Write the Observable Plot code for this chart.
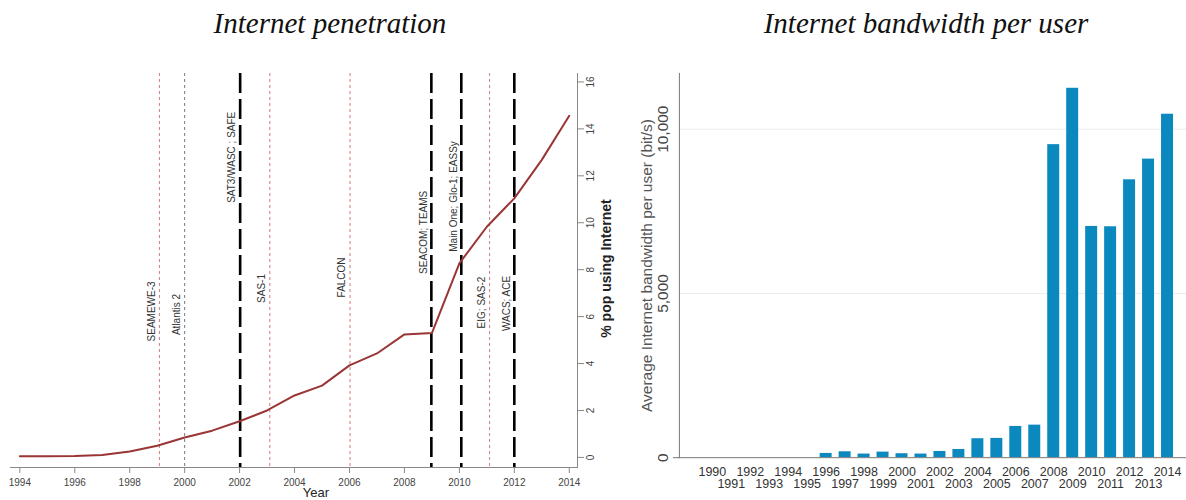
<!DOCTYPE html>
<html><head><meta charset="utf-8">
<script src="https://cdn.jsdelivr.net/npm/d3@7"></script>
<script src="https://cdn.jsdelivr.net/npm/@observablehq/plot@0.6"></script>
<style>
body{margin:0;background:#fff;width:1186px;height:500px;overflow:hidden;position:relative;font-family:"Liberation Sans",Arial,sans-serif}
.title{position:absolute;top:9px;font-family:"Liberation Serif","Times New Roman",serif;font-style:italic;font-size:29px;line-height:29px;white-space:nowrap;transform:translateX(-50%);color:#111}
#left{position:absolute;left:0;top:0}
#right{position:absolute;left:620px;top:0}
</style></head><body>
<div class="title" style="left:330px">Internet penetration</div>
<div class="title" style="left:926px">Internet bandwidth per user</div>
<div id="left"></div><div id="right"></div>
<script>
// ---- Left panel data: Internet penetration (% pop using Internet)
const penYears = [1994,1995,1996,1997,1998,1999,2000,2001,2002,2003,2004,2005,2006,2007,2008,2009,2010,2011,2012,2013,2014];
const penValues = [0.05,0.05,0.06,0.1,0.25,0.5,0.85,1.14,1.54,2.0,2.64,3.06,3.92,4.43,5.24,5.3,8.27,9.83,11.04,12.68,14.56];
const penXTicks = [1994,1996,1998,2000,2002,2004,2006,2008,2010,2012,2014];
const penYTicks = [0,2,4,6,8,10,12,14,16];

// submarine cable arrivals
const cableYears = [1999.08, 2000, 2002.02, 2003.1, 2006.02, 2008.98, 2010.07, 2011.1, 2012];
const cableNames = ["SEAMEWE-3","Atlantis 2","SAT3/WASC ; SAFE","SAS-1","FALCON","SEACOM; TEAMS","Main One; Glo-1; EASSy","EIG; SAS-2","WACS; ACE"];
const cableKinds = ["minor","gray","major","minor","minor","major","major","minor","major"];
const cableLabelY = [6.22, 6.09, 12.79, 7.2, 7.67, 9.59, 11.12, 6.6, 6.56];

// ---- Right panel data: average Internet bandwidth per user (bit/s)
const bwYears = [1990,1991,1992,1993,1994,1995,1996,1997,1998,1999,2000,2001,2002,2003,2004,2005,2006,2007,2008,2009,2010,2011,2012,2013,2014];
const bwValues = [0,0,0,0,0,0,130,180,110,170,120,110,190,250,577,587,951,991,9530,11246,7040,7030,8460,9090,10456];
const bwEvenTicks = [1990,1992,1994,1996,1998,2000,2002,2004,2006,2008,2010,2012,2014];
const bwOddTicks = [1991,1993,1995,1997,1999,2001,2003,2005,2007,2009,2011,2013];
const bwYTicks = [0,5000,10000];

const pen = penYears.map((year, i) => ({year, pct: penValues[i]}));
const cables = cableYears.map((year, i) => ({year, name: cableNames[i], kind: cableKinds[i], ly: cableLabelY[i]}));
const bw = bwYears.map((year, i) => ({year, value: bwValues[i]}));

const font = "'Liberation Sans', Arial, sans-serif";

const left = Plot.plot({
  width: 620, height: 500,
  marginLeft: 10, marginRight: 43, marginTop: 73, marginBottom: 33,
  style: {fontFamily: font, background: "transparent", overflow: "visible"},
  x: {domain: [1993.66, 2014.3]},
  y: {domain: [-0.43, 16.36]},
  marks: [
    Plot.ruleX(cables.filter(d => d.kind === "minor"), {x: "year", stroke: "#d07a7a", strokeWidth: 1, strokeDasharray: "3,3"}),
    Plot.ruleX(cables.filter(d => d.kind === "gray"), {x: "year", stroke: "#777", strokeWidth: 1, strokeDasharray: "3,3"}),
    Plot.ruleX(cables.filter(d => d.kind === "major"), {x: "year", stroke: "#000", strokeWidth: 2.6, strokeDasharray: "20,6"}),
    Plot.line(pen, {x: "year", y: "pct", stroke: "#9a3535", strokeWidth: 2}),
    Plot.text(cables, {x: "year", y: "ly", text: "name", rotate: -90, dx: -8, fontSize: 10, fill: "#333"}),
    Plot.frame({anchor: "bottom", stroke: "#888"}),
    Plot.frame({anchor: "right", stroke: "#888"}),
    Plot.axisX({ticks: penXTicks, tickFormat: "d", tickSize: 6, tickPadding: 5, fontSize: 10, fill: "#444", stroke: "#888", label: null}),
    Plot.axisY({anchor: "right", ticks: penYTicks, tickSize: 6, tickPadding: 3, tickRotate: -90, lineAnchor: "top", textAnchor: "middle", fontSize: 10, fill: "#444", stroke: "#888", label: null}),
    Plot.text(["% pop using Internet"], {frameAnchor: "right", textAnchor: "middle", dx: 29, dy: -2, rotate: -90, fontSize: 14, fontWeight: "bold", fill: "#222"}),
    Plot.text(["Year"], {frameAnchor: "bottom", textAnchor: "middle", dx: 22, dy: 29, fontSize: 13, fill: "#222"})
  ]
});
document.getElementById("left").append(left);

const right = Plot.plot({
  width: 567, height: 500,
  marginLeft: 59, marginRight: 0, marginTop: 73, marginBottom: 42,
  style: {fontFamily: font, background: "transparent", overflow: "visible"},
  x: {type: "band", domain: bwYears, paddingInner: 0.39, paddingOuter: 0.195, insetLeft: 14},
  y: {domain: [0, 11700]},
  marks: [
    Plot.ruleY([5000, 10000], {stroke: "#ececec"}),
    Plot.barY(bw, {x: "year", y: "value", fill: "#0b88bd"}),
    Plot.ruleY([0], {stroke: "#777", insetLeft: -6}),
    Plot.frame({anchor: "left", stroke: "#777"}),
    Plot.axisX({ticks: bwEvenTicks, tickFormat: "d", tickSize: 0, tickPadding: 9, fontSize: 12.5, fill: "#333", label: null}),
    Plot.axisX({ticks: bwOddTicks, tickFormat: "d", tickSize: 0, tickPadding: 9, dy: 12, fontSize: 12.5, fill: "#333", label: null}),
    Plot.axisY({anchor: "left", ticks: bwYTicks, tickFormat: d3.format(","), tickSize: 0, tickPadding: 11, tickRotate: -90, fontSize: 15.5, fill: "#444", label: null}),
    Plot.text(["Average Internet bandwidth per user (bit/s)"], {frameAnchor: "left", textAnchor: "middle", dx: -32.5, rotate: -90, fontSize: 15.5, fill: "#555"})
  ]
});
document.getElementById("right").append(right);
</script>
</body></html>
